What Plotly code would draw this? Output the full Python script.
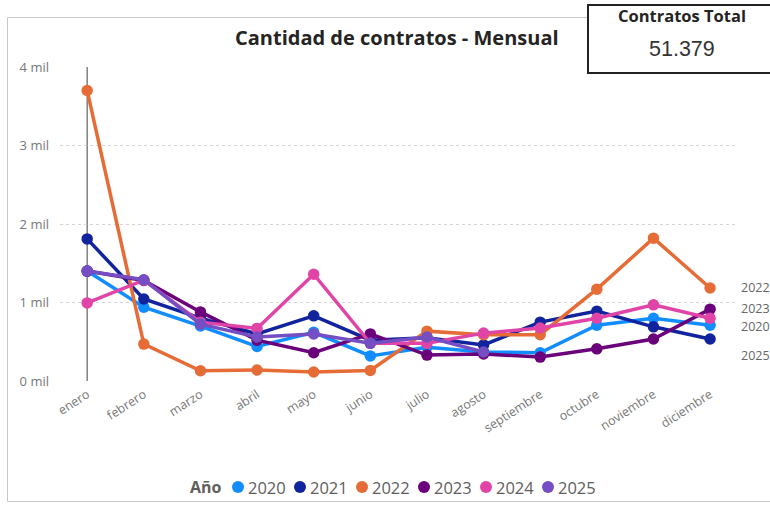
import plotly.graph_objects as go

meses = ["enero", "febrero", "marzo", "abril", "mayo", "junio", "julio",
         "agosto", "septiembre", "octubre", "noviembre", "diciembre"]
anios = ["2020", "2021", "2022", "2023", "2024", "2025"]
v2020 = [1400, 940, 700, 440, 620, 320, 430, 370, 360, 710, 800, 710]
v2021 = [1810, 1045, 800, 600, 830, 520, 550, 460, 750, 890, 690, 535]
v2022 = [3700, 470, 130, 140, 115, 135, 635, 590, 590, 1170, 1820, 1185]
v2023 = [1400, 1280, 880, 520, 360, 600, 330, 345, 305, 410, 535, 915]
v2024 = [995, 1285, 750, 670, 1360, 480, 480, 610, 675, 800, 970, 800]
v2025 = [1400, 1290, 725, 560, 600, 480, 560, 370]
series = [v2020, v2021, v2022, v2023, v2024, v2025]
colores = ["#118DFF", "#12239E", "#E66C37", "#6B007B", "#E044A7", "#744EC2"]
ytick_vals = [0, 1000, 2000, 3000, 4000]
ytick_text = ["0 mil", "1 mil", "2 mil", "3 mil", "4 mil"]
etiquetas_fin = ["2022", "2023", "2020", "2025"]
total_txt = "51.379"

W, H = 770, 507
L, R, T, B = 60, 35, 67, 126
PW, PH = W - L - R, H - T - B

def px(x):
    return (x - L) / PW

def py(y):
    return (H - B - y) / PH

fig = go.Figure()
for anio, vals, col in zip(anios, series, colores):
    fig.add_trace(go.Scatter(
        x=meses[:len(vals)], y=vals, mode="lines+markers", name=anio,
        line=dict(color=col, width=3.5), marker=dict(color=col, size=11.5),
        showlegend=False, cliponaxis=False))

FONT = "Segoe UI, Open Sans, sans-serif"
ann = []
shapes = []
# title
ann.append(dict(text="<b>Cantidad de contratos - Mensual</b>", x=px(397), y=py(37),
                xref="paper", yref="paper", showarrow=False, xanchor="center", yanchor="middle",
                font=dict(family=FONT, size=20, color="#252423")))
# end labels
shifts = {"2022": 0, "2023": 1, "2020": -1, "2025": -4}
for lab in etiquetas_fin:
    i = anios.index(lab)
    vals = series[i]
    ann.append(dict(text=lab, x=px(739), y=vals[-1], xref="paper", yref="y",
                    showarrow=False, xanchor="left", yanchor="middle",
                    yshift=shifts[lab],
                    font=dict(family=FONT, size=12.5, color="#666666")))
# legend (manual)
ann.append(dict(text="<b>Año</b>", x=px(188), y=py(487), xref="paper", yref="paper",
                showarrow=False, xanchor="left", yanchor="middle",
                font=dict(family=FONT, size=16, color="#605E5C")))
cx0, step = 238, 62
for k, (anio, col) in enumerate(zip(anios, colores)):
    cx = cx0 + k * step
    shapes.append(dict(type="circle", xref="paper", yref="paper", xsizemode="pixel",
                       ysizemode="pixel", xanchor=px(cx), yanchor=py(487),
                       x0=-6, x1=6, y0=-6, y1=6, fillcolor=col, line=dict(width=0)))
    ann.append(dict(text=anio, x=px(cx + 8), y=py(487), xref="paper", yref="paper",
                    showarrow=False, xanchor="left", yanchor="middle",
                    font=dict(family=FONT, size=16.5, color="#605E5C")))
# outer frame
shapes.append(dict(type="rect", xref="paper", yref="paper", x0=px(7.5), x1=px(790),
                   y0=py(501.5), y1=py(17.5), line=dict(color="#C8C8C8", width=1),
                   layer="below"))
# enero reference line
shapes.append(dict(type="line", xref="x", yref="y", x0=meses[0], x1=meses[0],
                   y0=0, y1=4000, line=dict(color="#7F7F7F", width=1.5), layer="below"))
# KPI card
shapes.append(dict(type="rect", xref="paper", yref="paper", x0=px(588), x1=px(800),
                   y0=py(73), y1=py(5), line=dict(color="#222222", width=2),
                   fillcolor="white"))
ann.append(dict(text="<b>Contratos Total</b>", x=px(682), y=py(16), xref="paper", yref="paper",
                showarrow=False, xanchor="center", yanchor="middle",
                font=dict(family=FONT, size=16.5, color="#252423")))
ann.append(dict(text=total_txt, x=px(682), y=py(49), xref="paper", yref="paper",
                showarrow=False, xanchor="center", yanchor="middle",
                font=dict(family="Liberation Sans, Arial, sans-serif", size=21.5, color="#333333")))

fig.update_layout(
    width=W, height=H, margin=dict(l=L, r=R, t=T, b=B),
    paper_bgcolor="white", plot_bgcolor="white",
    annotations=ann, shapes=shapes, showlegend=False,
    font=dict(family=FONT),
)
fig.update_xaxes(type="category", categoryorder="array", categoryarray=meses,
                 range=[-0.48, 11.44], showgrid=False, zeroline=False, showline=False,
                 tickangle=-33, tickfont=dict(family=FONT, size=12.5, color="#777777"),
                 ticks="", ticklabelstandoff=3)
fig.update_yaxes(range=[0, 4000], tickvals=ytick_vals, ticktext=ytick_text,
                 showgrid=True, gridcolor="#D5D5D5", griddash="dot", gridwidth=1,
                 zeroline=False, showline=False, ticks="", ticklabelstandoff=10,
                 tickfont=dict(family=FONT, size=13, color="#777777"))

fig.write_html("out.html", config={"displayModeBar": False},
               post_script="document.body.style.margin='0';document.body.style.overflow='hidden';")
